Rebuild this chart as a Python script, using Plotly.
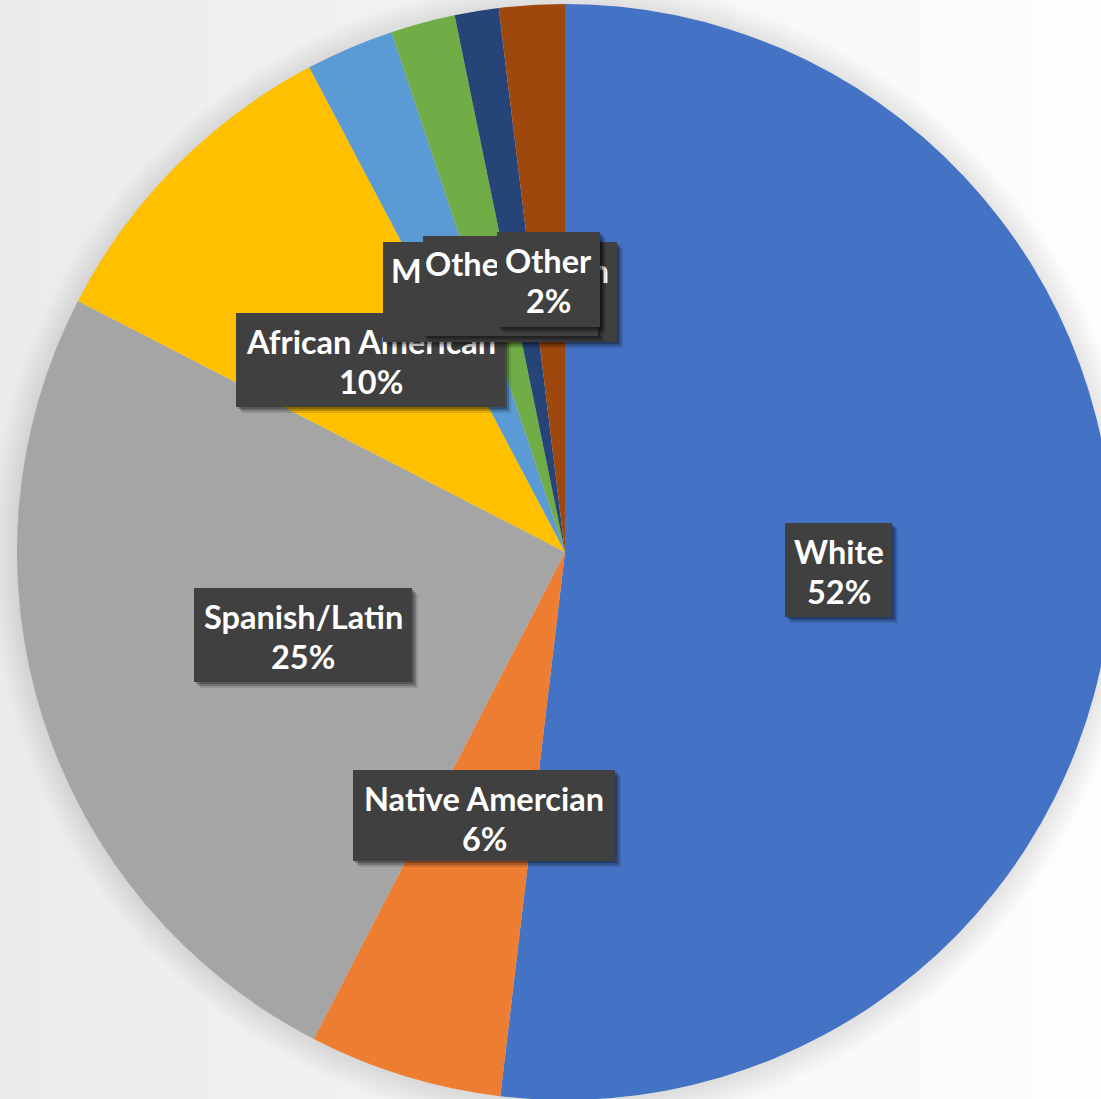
import plotly.graph_objects as go

# ---------------- data ----------------
categories = ["White", "Native Amercian", "Spanish/Latin", "African American",
              "Middle Eastern", "Asian", "Other Asian", "Other"]
values = [51.9, 5.7, 25.0, 9.7, 2.6, 1.9, 1.3, 1.93]
colors = ["#4472C4", "#ED7D31", "#A5A5A5", "#FFC000",
          "#5B9BD5", "#70AD47", "#264478", "#9E480E"]

total = sum(values)
pct_text = [f"{round(v / total * 100)}%" for v in values]

# ---------------- geometry / style ----------------
W, H = 1130, 1104
CX, CY, R = 565, 552, 548

# label boxes in pixels (x0, y0, x1, y1, show_percent), drawn in this order
label_boxes = [
    (0, (785, 523, 892, 617), True),
    (1, (353, 770, 615, 861), True),
    (2, (194, 588, 412, 682), True),
    (3, (236, 313, 505, 407), True),
    (5, (440, 238, 590, 328), True),
    (4, (383, 242, 617, 342), True),
    (6, (423, 236, 598, 336), False),
    (7, (497, 232, 600, 327), True),
]

FONT = dict(family="Lato", size=32.5, color="white", weight="bold")


def px(x):
    return x / W


def py(y):
    return (H - y) / H


fig = go.Figure()
fig.add_trace(go.Pie(
    labels=categories,
    values=values,
    sort=False,
    direction="clockwise",
    rotation=0,
    textinfo="none",
    hoverinfo="label+percent",
    marker=dict(colors=colors, line=dict(width=0)),
    domain=dict(x=[px(CX - R), px(CX + R)], y=[py(CY + R), py(CY - R)]),
    showlegend=False,
))

shapes = []
# background gradient (light gray on the left to white on the right)
N = 60
for i in range(N):
    t = i / (N - 1)
    c = int(round(0xEB + (0xFE - 0xEB) * t))
    shapes.append(dict(type="rect", xref="paper", yref="paper",
                       x0=i / N, x1=(i + 1) / N + 0.002, y0=0, y1=1,
                       fillcolor=f"rgb({c},{c},{c})", line=dict(width=0),
                       layer="below"))
# soft halo around the pie
for k in range(12):
    d = 2 + k * 2.2
    shapes.append(dict(type="circle", xref="paper", yref="paper",
                       x0=px(CX - R - d), x1=px(CX + R + d),
                       y0=py(CY + R + d + 2), y1=py(CY - R - d + 2),
                       fillcolor="rgba(0,0,0,0.008)", line=dict(width=0),
                       layer="below"))

annotations = []
for idx, (x0, y0, x1, y1), show_pct in label_boxes:
    w, h = x1 - x0, y1 - y0
    cx, cy = (x0 + x1) / 2, (y0 + y1) / 2
    for off, a in ((6, 0.12), (4, 0.2), (2, 0.25)):
        annotations.append(dict(x=px(cx + off), y=py(cy + off), xref="paper", yref="paper",
                                text=" ", showarrow=False, width=w, height=h,
                                bgcolor=f"rgba(0,0,0,{a})", borderpad=0, borderwidth=0,
                                xanchor="center", yanchor="middle"))
    annotations.append(dict(x=px(cx), y=py(cy), xref="paper", yref="paper",
                            text=" ", showarrow=False, width=w, height=h,
                            bgcolor="#404040", borderpad=0, borderwidth=0,
                            xanchor="center", yanchor="middle"))
    annotations.append(dict(x=px(cx), y=py(y0 + 28), xref="paper", yref="paper",
                            text=categories[idx], showarrow=False, font=FONT,
                            xanchor="center", yanchor="middle"))
    if show_pct:
        annotations.append(dict(x=px(cx), y=py(y0 + 68), xref="paper", yref="paper",
                                text=pct_text[idx], showarrow=False, font=FONT,
                                xanchor="center", yanchor="middle"))

fig.update_layout(
    width=W, height=H,
    margin=dict(l=0, r=0, t=0, b=0),
    paper_bgcolor="white",
    plot_bgcolor="white",
    shapes=shapes,
    annotations=annotations,
)

fig.write_html("out.html", config={"displayModeBar": False},
               post_script="document.body.style.margin='0';document.body.style.overflow='hidden';")
